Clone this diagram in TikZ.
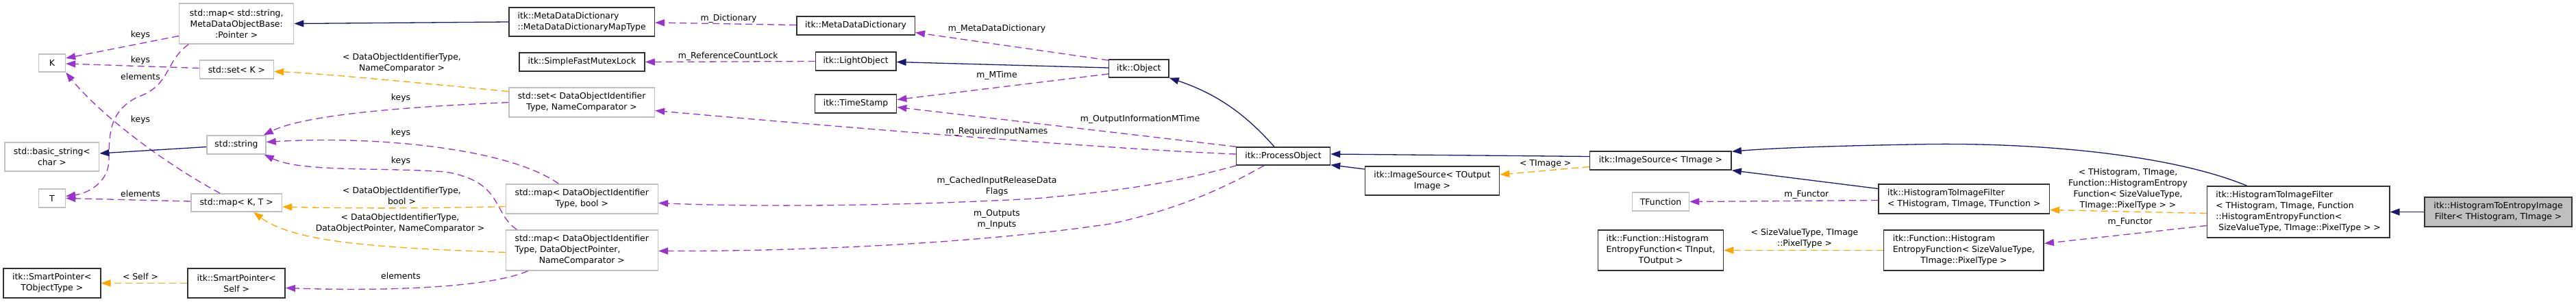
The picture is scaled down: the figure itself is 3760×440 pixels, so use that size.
\documentclass[tikz,border=0pt]{standalone}
\usepackage{fontspec}
\setmainfont{DejaVu Sans}
\usetikzlibrary{arrows.meta,calc}
\definecolor{navy}{RGB}{25,25,112}
\definecolor{purp}{RGB}{154,50,205}
\definecolor{orng}{RGB}{255,165,0}
\definecolor{gbord}{RGB}{191,191,191}
\definecolor{bbord}{RGB}{50,50,50}
\definecolor{mainfill}{RGB}{191,191,191}
\newcommand{\Lc}[1]{\multicolumn{1}{@{}c@{}}{#1}}
\begin{document}
\begin{tikzpicture}[x=1pt,y=-1pt,
  every node/.style={font=\fontsize{12.4}{16}\selectfont, inner sep=0pt, text=black},
  sz/.style 2 args={minimum width=#1pt, minimum height=#2pt},
  bk/.style={draw=bbord, line width=1.5pt, fill=white, align=center},
  gy/.style={draw=gbord, line width=1.5pt, fill=white, align=center},
  mn/.style={draw=bbord, line width=1.5pt, fill=mainfill, align=center},
  lb/.style={align=center},
  tip/.style={-{Triangle[length=14pt,width=10pt]}},
  nv/.style={draw=navy, line width=1.3pt, tip},
  pu/.style={draw=purp, line width=1.3pt, dash pattern=on 10pt off 6pt, tip},
  og/.style={draw=orng, line width=1.3pt, dash pattern=on 10pt off 6pt, tip}]
\useasboundingbox (0,0) rectangle (3760,440);
\fill[white] (0,0) rectangle (3760,440);

% nodes
\node[gy,sz={167}{59}] (mapStr) at (345.2,34.5) {std::map< std::string,\\MetaDataObjectBase:\\:Pointer >};
\node[gy,sz={39}{26}] (K) at (75.9,92) {K};
\node[gy,sz={108}{27}] (setK) at (345.4,101.5) {std::set< K >};
\node[gy,sz={137.5}{42}] (basicStr) at (75.9,229) {std::basic\_string<\\char >};
\node[gy,sz={86}{27}] (stdString) at (345,211.5) {std::string};
\node[gy,sz={39}{27}] (T) at (75.9,289.5) {T};
\node[gy,sz={132.5}{26}] (mapKT) at (345.2,296) {std::map< K, T >};
\node[bk,sz={142}{43}] (spT) at (75.8,413.5) {itk::SmartPointer<\\TObjectType >};
\node[bk,sz={142}{43}] (spSelf) at (345.2,413.5) {itk::SmartPointer<\\Self >};

\node[bk,sz={212.5}{42}] (mdMap) at (849.1,32) {\begin{tabular}{@{}l@{}}itk::MetaDataDictionary\\\Lc{::MetaDataDictionaryMapType}\end{tabular}};
\node[bk,sz={183}{27}] (sfml) at (849.5,90.5) {itk::SimpleFastMutexLock};
\node[gy,sz={212.5}{43}] (setDOI) at (849.1,149.5) {\begin{tabular}{@{}l@{}}std::set< DataObjectIdentifier\\\Lc{Type, NameComparator >}\end{tabular}};
\node[gy,sz={222}{43}] (mapDOIbool) at (849.3,290.5) {\begin{tabular}{@{}l@{}}std::map< DataObjectIdentifier\\\Lc{Type, bool >}\end{tabular}};
\node[gy,sz={222}{59}] (mapDOIdop) at (849.3,365.5) {\begin{tabular}{@{}l@{}}std::map< DataObjectIdentifier\\Type, DataObjectPointer,\\\Lc{NameComparator >}\end{tabular}};

\node[bk,sz={172.5}{27}] (mdd) at (1249.1,37.5) {itk::MetaDataDictionary};
\node[bk,sz={117.5}{27}] (light) at (1249.1,89.5) {itk::LightObject};
\node[bk,sz={119}{27}] (tstamp) at (1249.1,151.5) {itk::TimeStamp};
\node[bk,sz={87.5}{26}] (object) at (1662.3,100) {itk::Object};
\node[bk,sz={137}{26}] (procObj) at (1873,228) {itk::ProcessObject};
\node[bk,sz={196}{42}] (isOut) at (2090.5,264) {itk::ImageSource< TOutput\\Image >};
\node[bk,sz={206.4}{27}] (isImg) at (2423.9,234.5) {itk::ImageSource< TImage >};
\node[gy,sz={83}{27}] (tfunc) at (2424,294.5) {TFunction};
\node[bk,sz={183}{59}] (hefIO) at (2424,365.5) {\begin{tabular}{@{}l@{}}itk::Function::Histogram\\EntropyFunction< TInput,\\\Lc{TOutput >}\end{tabular}};
\node[bk,sz={249.6}{43}] (htif1) at (2866.6,290.5) {\begin{tabular}{@{}l@{}}itk::HistogramToImageFilter\\\Lc{< THistogram, TImage, TFunction >}\end{tabular}};
\node[bk,sz={233.6}{59}] (hefSVT) at (2866.4,365.5) {\begin{tabular}{@{}l@{}}itk::Function::Histogram\\EntropyFunction< SizeValueType,\\\Lc{TImage::PixelType >}\end{tabular}};
\node[bk,sz={266.4}{75}] (htif2) at (3354.6,309.5) {\begin{tabular}{@{}l@{}}itk::HistogramToImageFilter\\< THistogram, TImage, Function\\::HistogramEntropyFunction<\\\Lc{\ SizeValueType, TImage::PixelType > >}\end{tabular}};
\node[mn,sz={215}{43}] (main) at (3646.5,309.5) {itk::HistogramToEntropyImage\\Filter< THistogram, TImage >};

% edges
\draw[nv] (mdMap.west) -- (mapStr.east);
\draw[pu] ($(mapStr.west)+(0,18)$) -- ($(K.east)+(0,-7)$);
\draw[pu] ($(setK.west)+(0,-2)$) -- ($(K.east)+(0,1)$);
\draw[pu] ($(mapStr.south)+(-70,0)$) .. controls (240,90) and (250,125) .. (200,142)
   .. controls (162,162) and (159,190) .. (159,233)
   .. controls (159,265) and (130,282) .. ($(T.east)+(0,-3)$);
\draw[pu] ($(mapKT.north)+(-24,0)$) .. controls (225,230) and (140,160) .. (K.south east);
\draw[pu] ($(mapKT.west)+(0,-2)$) -- (T.east);
\draw[nv] ($(stdString.west)+(0,3)$) -- ($(basicStr.east)+(0,-5)$);
\draw[og] ($(setDOI.west)+(0,-16)$) .. controls (620,122) and (470,107) .. ($(setK.east)+(0,3)$);
\draw[pu] (setDOI.west) .. controls (620,155) and (450,165) .. ($(stdString.north east)+(-4,0)$);
\draw[pu] ($(mapDOIbool.north)+(-34,0)$) .. controls (740,215) and (540,198) .. ($(stdString.east)+(0,-4)$);
\draw[pu] ($(mapDOIdop.north)+(-95,0)$) .. controls (718,310) and (735,265) .. (650,251)
   .. controls (560,244) and (440,252) .. ($(stdString.south east)+(-3,0)$);
\draw[og] ($(mapDOIbool.west)+(0,11)$) .. controls (620,305) and (480,304) .. ($(mapKT.east)+(0,6)$);
\draw[og] ($(mapDOIdop.west)+(0,3)$) .. controls (560,362) and (430,355) .. ($(mapKT.south east)+(-42,0)$);
\draw[pu] ($(mapDOIdop.south)+(-79,0)$) .. controls (720,418) and (580,426) .. ($(spSelf.east)+(0,7)$);
\draw[og] (spSelf.west) -- (spT.east);
\draw[pu] ($(mdd.west)+(0,-1)$) -- ($(mdMap.east)+(0,1)$);
\draw[pu] (light.west) -- (sfml.east);
\draw[pu] ($(object.west)+(0,-12)$) -- ($(mdd.east)+(0,10)$);
\draw[nv] ($(object.west)+(0,-1)$) -- ($(light.east)+(0,1)$);
\draw[pu] ($(object.west)+(0,8)$) -- ($(tstamp.east)+(0,-6)$);
\draw[pu] ($(procObj.north west)+(1,0)$) -- ($(tstamp.east)+(0,5)$);
\draw[pu] ($(procObj.west)+(0,-3)$) .. controls (1620,218) and (1220,185) .. ($(setDOI.east)+(0,12)$);
\draw[pu] ($(procObj.south west)+(1,0)$) .. controls (1730,262) and (1660,277) .. (1510,290)
   .. controls (1330,300) and (1120,303) .. ($(mapDOIbool.east)+(0,6)$);
\draw[pu] ($(procObj.south)+(-28,0)$) .. controls (1795,270) and (1725,305) .. (1620,327)
   .. controls (1430,355) and (1180,367) .. ($(mapDOIdop.east)+(0,1)$);
\draw[nv] ($(procObj.north)+(-13,0)$) .. controls (1825,175) and (1785,140) .. (object.south east);
\draw[nv] ($(isImg.west)+(0,-6)$) -- ($(procObj.east)+(0,-3)$);
\draw[nv] ($(isOut.west)+(0,-17)$) -- ($(procObj.south east)+(0,-1)$);
\draw[og] ($(isImg.west)+(0,9)$) -- ($(isOut.east)+(0,-9)$);
\draw[nv] ($(htif1.west)+(0,-15)$) -- (isImg.south east);
\draw[nv] ($(htif2.north)+(-75,0)$) .. controls (3160,222) and (2950,207) .. (2790,211)
   .. controls (2680,213) and (2590,216) .. ($(isImg.north east)+(0,1)$);
\draw[pu] ($(htif1.west)+(0,2)$) -- (tfunc.east);
\draw[og] (hefSVT.west) -- (hefIO.east);
\draw[og] ($(htif2.west)+(0,2)$) -- ($(htif1.east)+(0,16)$);
\draw[pu] ($(htif2.west)+(0,20)$) -- ($(hefSVT.east)+(0,-10)$);
\draw[nv] (main.west) -- (htif2.east);

% labels
\node[lb] (l1) at (205,51) {keys};
\node[lb] (l2) at (205,88) {keys};
\node[lb] (l3) at (205,112) {elements};
\node[lb] (l4) at (205,175) {keys};
\node[lb] (l5) at (205,283) {elements};
\node[lb] (l6) at (205,404) {< Self >};
\node[lb] (l7) at (586.5,92) {< DataObjectIdentifierType,\\NameComparator >};
\node[lb] (l8) at (585,143) {keys};
\node[lb] (l9) at (585,194) {keys};
\node[lb] (l10) at (585,235) {keys};
\node[lb] (l11) at (586.5,286) {< DataObjectIdentifierType,\\bool >};
\node[lb] (l12) at (584,326) {< DataObjectIdentifierType,\\DataObjectPointer, NameComparator >};
\node[lb] (l13) at (585,403) {elements};
\node[lb] (l14) at (1063.5,27) {m\_Dictionary};
\node[lb] (l15) at (1062.7,82) {m\_ReferenceCountLock};
\node[lb] (l16) at (1455,42) {m\_MetaDataDictionary};
\node[lb] (l17) at (1455,110) {m\_MTime};
\node[lb] (l18) at (1664,174) {m\_OutputInformationMTime};
\node[lb] (l19) at (1455,192) {m\_RequiredInputNames};
\node[lb] (l20) at (1455,272) {m\_CachedInputReleaseData\\Flags};
\node[lb] (l21) at (1455,320) {m\_Outputs\\m\_Inputs};
\node[lb] (l22) at (2255.7,239) {< TImage >};
\node[lb] (l23) at (2636.8,284) {m\_Functor};
\node[lb] (l24) at (2634,348) {< SizeValueType, TImage\\::PixelType >};
\node[lb] (l25) at (3106,276) {< THistogram, TImage,\\Function::HistogramEntropy\\Function< SizeValueType,\\TImage::PixelType > >};
\node[lb] (l26) at (3109,324) {m\_Functor};
\end{tikzpicture}
\end{document}
